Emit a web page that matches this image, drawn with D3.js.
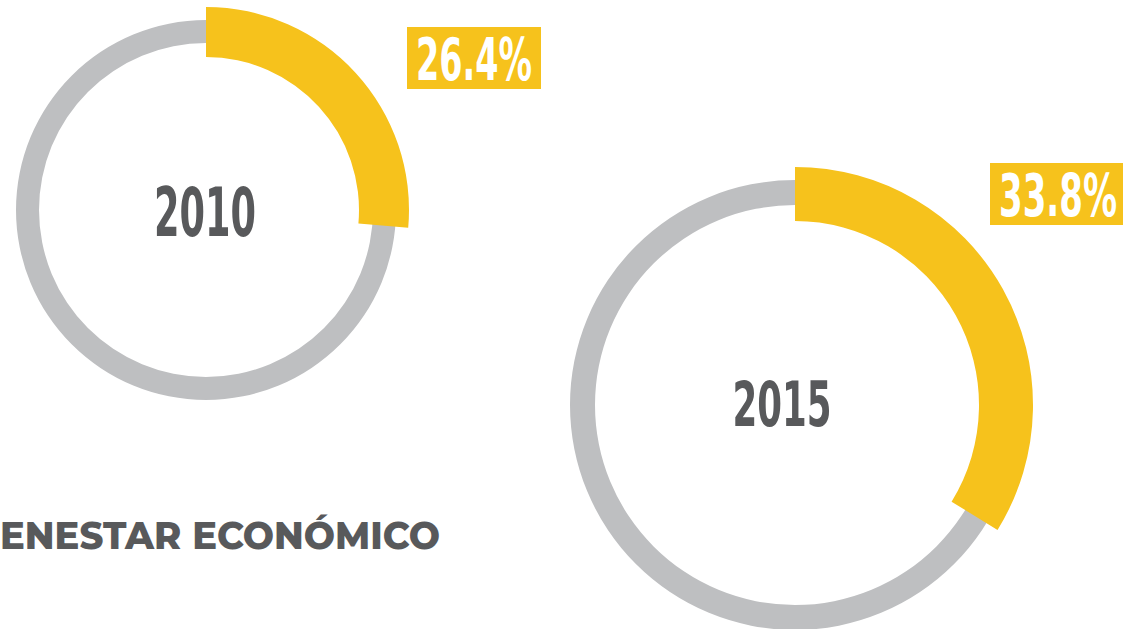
<!DOCTYPE html>
<html>
<head>
<meta charset="utf-8">
<script src="https://cdn.jsdelivr.net/npm/d3@7"></script>
<style>
  html, body { margin: 0; padding: 0; background: #ffffff; overflow: hidden; }
  #chart { width: 1123px; height: 629px; }
</style>
</head>
<body>
<div id="chart"></div>
<script>
// data
const years = ["2010", "2015"];
const values = [26.4, 33.8];
const valueLabels = ["26.4%", "33.8%"];
const title = "BIENESTAR ECONÓMICO";

// layout (positions and sizes only)
const width = 1123;
const height = 629;
const yellow = "#f6c21c";
const grey = "#bebfc1";
const dark = "#58595b";
const condensed = "'Liberation Sans Narrow', 'DejaVu Sans Condensed', 'Arial Narrow', sans-serif";

const rings = [
    { cx: 206, cy: 210, r: 190, band: 23, yIn: 153, yOut: 203,
      yearX: 205, yearY: 211, yearW: 102, yearCap: 49,
      box: { x: 407, y: 27, w: 134, h: 62 }, labelW: 116 },
    { cx: 795, cy: 405, r: 225, band: 25, yIn: 184, yOut: 238,
      yearX: 782, yearY: 403, yearW: 99, yearCap: 46,
      box: { x: 990, y: 163, w: 135, h: 62 }, labelW: 118 }
];

const svg = d3.select("#chart")
    .append("svg")
    .attr("width", width)
    .attr("height", height);

// share of the circle -> angle
const angle = d3.scaleLinear().domain([0, 100]).range([0, 2 * Math.PI]);

years.forEach((year, i) => {
    const L = rings[i];
    const g = svg.append("g").attr("transform", `translate(${L.cx},${L.cy})`);

    // grey full ring
    g.append("path")
        .attr("d", d3.arc()
            .innerRadius(L.r - L.band)
            .outerRadius(L.r)
            .startAngle(0)
            .endAngle(2 * Math.PI)())
        .attr("fill", grey);

    // yellow share
    g.append("path")
        .attr("d", d3.arc()
            .innerRadius(L.yIn)
            .outerRadius(L.yOut)
            .startAngle(angle(0))
            .endAngle(angle(values[i]))())
        .attr("fill", yellow);

    // year in the middle
    svg.append("text")
        .attr("x", L.yearX)
        .attr("y", L.yearY + L.yearCap / 2)
        .attr("text-anchor", "middle")
        .attr("font-family", condensed)
        .attr("font-weight", "bold")
        .attr("font-size", L.yearCap / 0.73)
        .attr("fill", dark)
        .attr("textLength", L.yearW)
        .attr("lengthAdjust", "spacingAndGlyphs")
        .text(year);

    // percentage box
    svg.append("rect")
        .attr("x", L.box.x)
        .attr("y", L.box.y)
        .attr("width", L.box.w)
        .attr("height", L.box.h)
        .attr("fill", yellow);

    const cap = 43;
    svg.append("text")
        .attr("x", L.box.x + 9 + L.labelW / 2)
        .attr("y", L.box.y + L.box.h / 2 + cap / 2)
        .attr("text-anchor", "middle")
        .attr("font-family", condensed)
        .attr("font-weight", "bold")
        .attr("font-size", cap / 0.73)
        .attr("fill", "#ffffff")
        .attr("textLength", L.labelW)
        .attr("lengthAdjust", "spacingAndGlyphs")
        .text(valueLabels[i]);
});

// title, cut off at the left edge like the source
const titleFont = "Montserrat, 'Open Sans', Lato, sans-serif";
const titleSize = 38;
const titleRight = 440;
const visiblePart = title.slice(2);

const probe = svg.append("text")
    .attr("font-family", titleFont)
    .attr("font-weight", 800)
    .attr("font-size", titleSize)
    .text(visiblePart);
const wVisible = probe.node().getComputedTextLength();
probe.text(title);
const wFull = probe.node().getComputedTextLength();
probe.remove();

svg.append("text")
    .attr("x", titleRight)
    .attr("y", 549)
    .attr("text-anchor", "end")
    .attr("font-family", titleFont)
    .attr("font-weight", 800)
    .attr("font-size", titleSize)
    .attr("fill", dark)
    .attr("textLength", wFull * titleRight / wVisible)
    .attr("lengthAdjust", "spacingAndGlyphs")
    .text(title);
</script>
</body>
</html>
